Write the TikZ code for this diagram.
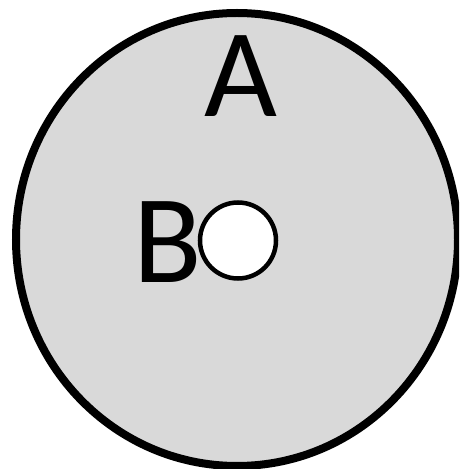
\documentclass[tikz,border=0pt]{standalone}
\usepackage{fontspec}
\setmainfont{Carlito}
\usetikzlibrary{positioning}
\definecolor{cfill}{HTML}{D9D9D9}
\definecolor{cline}{HTML}{000000}
\tikzset{
  every picture/.style={x=1pt, y=1pt},
  setbox/.style={draw=cline, fill=cfill, line width=8pt},
  hole/.style={circle, draw=cline, fill=white, line width=4.5pt, minimum size=76pt, inner sep=0pt},
  setlabel/.style={font=\fontsize{126}{126}\selectfont, inner sep=0pt, text=cline},
}

\begin{document}
\begin{tikzpicture}
  \useasboundingbox (0,0) rectangle (459,469);
  \clip (0,0) rectangle (459,469);
  % ---------- outer set
  \draw[setbox] (237,229.5) ellipse [x radius=221, y radius=226.5];
  \node[setlabel, anchor=base] (lblA) at (240.5,352) {A};
  % ---------- inner point
  \node[hole] (holeB) at (238,228.5) {};
  \node[setlabel, anchor=base east] (lblB) at (202,186) {B};
\end{tikzpicture}
\end{document}
